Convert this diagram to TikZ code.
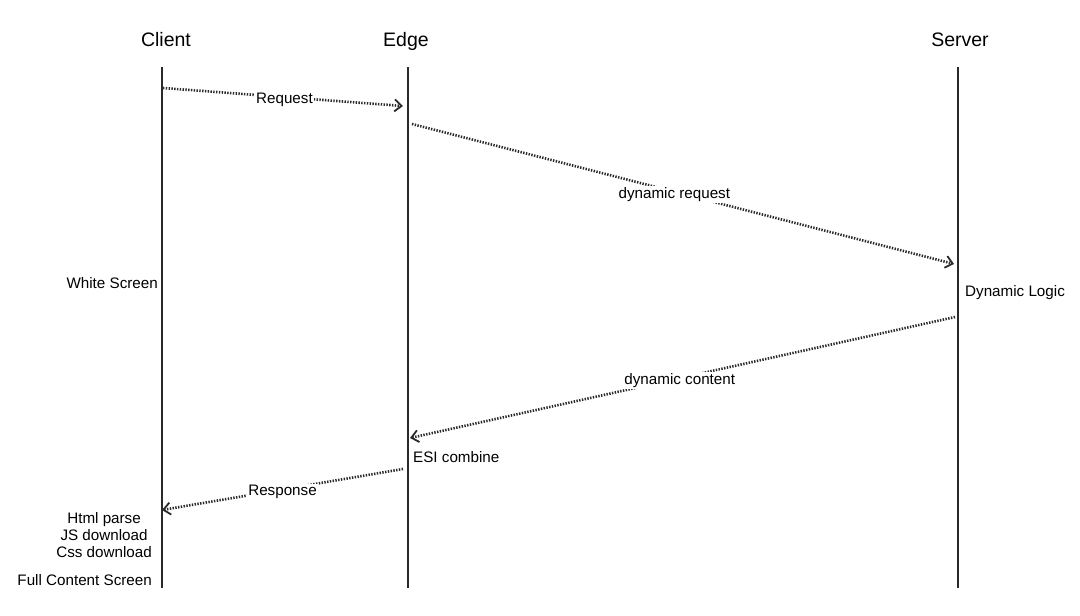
\documentclass[tikz,border=0pt]{standalone}
\usepackage{fontspec}
\setmainfont{Liberation Sans}
\usetikzlibrary{arrows.meta}
\definecolor{lineC}{HTML}{2A2A2A}
\begin{document}
\begin{tikzpicture}[x=1pt,y=-1pt,
  lifeline/.style={draw=lineC,line width=2.4pt},
  head/.style={font=\fontsize{19.5}{23}\selectfont,text=black,anchor=base},
  msg/.style={draw=lineC,line width=2.6pt,dash pattern=on 1.4pt off 1.4pt,
    -{Straight Barb[length=7pt,width=12pt,line width=1.8pt,sep=0pt]}},
  msglabel/.style={fill=white,inner sep=1.5pt,font=\fontsize{15.2}{17}\selectfont,text=black,yshift=-2.5pt},
  side/.style={font=\fontsize{15.2}{17}\selectfont,text=black,inner sep=0pt}]
\useasboundingbox (0,0) rectangle (1080,616);
% headers
\node[head] (hc) at (166,46) {Client};
\node[head] (he) at (406,46) {Edge};
\node[head] (hs) at (960,46) {Server};
% lifeline ends
\coordinate (ct) at (162,67); \coordinate (cb) at (162,588);
\coordinate (et) at (408,67); \coordinate (eb) at (408,588);
\coordinate (st) at (958,67); \coordinate (sb) at (958,588);
\draw[lifeline] (ct) -- (cb);
\draw[lifeline] (et) -- (eb);
\draw[lifeline] (st) -- (sb);
% message endpoints
\coordinate (m1a) at (163,88);  \coordinate (m1b) at (403,106);
\coordinate (m2a) at (412,124); \coordinate (m2b) at (954,264);
\coordinate (m3a) at (955,317); \coordinate (m3b) at (410,438);
\coordinate (m4a) at (403,469); \coordinate (m4b) at (162,510);
\draw[msg] (m1a) -- node[msglabel,pos=0.506] (l1) {Request} (m1b);
\draw[msg] (m2a) -- node[msglabel,pos=0.484] (l2) {dynamic request} (m2b);
\draw[msg] (m3a) -- node[msglabel,pos=0.505] (l3) {dynamic content} (m3b);
\draw[msg] (m4a) -- node[msglabel,pos=0.50] (l4) {Response} (m4b);
% side labels
\node[side,anchor=east] (ws) at (158,283) {White Screen};
\node[side,anchor=west] (dl) at (965,293) {Dynamic Logic};
\node[side,anchor=west] (esi) at (413,457) {ESI combine};
\node[side,anchor=east,align=center] (hp) at (152,535) {Html parse\\JS download\\Css download};
\node[side,anchor=east] (fc) at (152,580) {Full Content Screen};
\end{tikzpicture}
\end{document}
